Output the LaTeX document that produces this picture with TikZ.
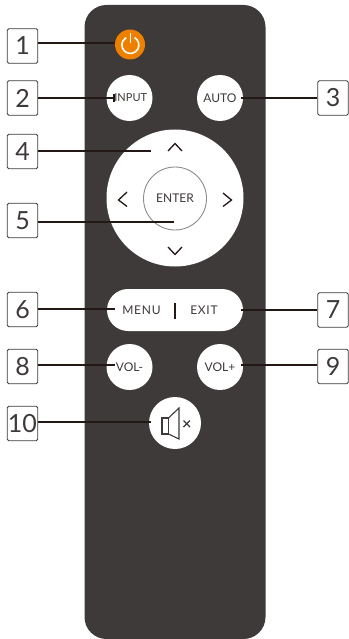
\documentclass[tikz,border=0pt]{standalone}
\usepackage{fontspec}
\setmainfont{Lato}
\tikzset{
    numbox/.style={draw=bodygray, line width=0.9pt, rounded corners=1.5pt, fill=white, text=bodygray,
        minimum width=30.5pt, minimum height=34.5pt, inner sep=0pt, font=\fontsize{25}{25}\selectfont},
    keybtn/.style={circle, fill=white, text=bodygray, inner sep=0pt, minimum size=46pt, font=\fontsize{12}{12}\selectfont},
    pilltxt/.style={text=bodygray, inner sep=0pt, font=\fontsize{12}{12}\selectfont\addfontfeature{LetterSpace=6}},
    leader/.style={draw=leadblack, line width=2.3pt},
    chevron/.style={draw=leadblack, line width=1.3pt},
}
\definecolor{bodygray}{HTML}{3E3A39}
\definecolor{leadblack}{HTML}{231815}
\definecolor{powerorange}{HTML}{EE8000}
\begin{document}
\begin{tikzpicture}[x=1pt, y=-1pt]
    \useasboundingbox (0,0) rectangle (348,639);
    \fill[bodygray, rounded corners=22pt] (84.5,5) rectangle (265.5,639);

    % keys
    \node[keybtn, fill=powerorange, minimum size=30pt] (power) at (130,44.5) {};
    \draw[white, line width=1.6pt] (134.6,37.6) arc[start angle=300, end angle=600, radius=8.5];
    \draw[white, line width=1.6pt] (130.3,33) -- (130.3,43);
    \node[keybtn, font=\fontsize{11}{11}\selectfont] (input) at (129.5,98) {\hspace{2.5pt}INPUT};
    \node[keybtn] (auto) at (220,98) {AUTO};
    \node[keybtn, minimum size=137pt] (dial) at (175,198) {};
    \node[keybtn, draw=gray!90, line width=0.9pt, minimum size=63pt] (enter) at (175,198.5) {ENTER};
    \node[keybtn, shape=rectangle, rounded corners=21pt, minimum width=136pt, minimum height=42pt] (menu) at (175,310) {};
    \node[pilltxt] (menutxt) at (141.5,310) {MENU};
    \node[pilltxt] (exittxt) at (204,310) {EXIT};
    \draw[leadblack, line width=1.2pt] (175,302.5) -- (175,318.5);
    \node[keybtn] (volm) at (129.5,367) {VOL-};
    \node[keybtn] (volp) at (220,367) {VOL+};
    \node[keybtn, minimum size=52pt] (mute) at (175,423) {};

    % dial arrows
    \draw[chevron] (168,151) -- (175,143.5) -- (182,151);
    \draw[chevron] (168,247) -- (175,254.5) -- (182,247);
    \draw[chevron] (127,192) -- (118.5,200) -- (127,206.5);
    \draw[chevron] (223,193) -- (231.5,200) -- (223,206.5);

    % speaker
    \draw[bodygray, line width=1.1pt] (162,418) rectangle (168.5,434);
    \draw[bodygray, line width=1.1pt] (168.5,418) -- (179,408) -- (179,439) -- (168.5,434);
    \draw[bodygray, line width=1.2pt] (183.5,420.5) -- (190,427) (190,420.5) -- (183.5,427);

    % numbered boxes
    \foreach \n/\x/\y in {1/22.5/46, 2/22.5/98, 3/333/98, 4/22.5/151.5, 5/22.5/220.5, 6/22.5/309.5, 7/333/310, 8/22.5/366.5, 9/333/366.5, 10/22.5/423.5}
        \node[numbox] (box\n) at (\x,\y) {\n};

    % leader ends
    \coordinate (end1) at (115,43);
    \coordinate (end2) at (114,98);
    \coordinate (end3) at (241,98);
    \coordinate (end4) at (151,151);
    \coordinate (end5) at (174,222);
    \coordinate (end6) at (115,309);
    \coordinate (end7) at (241,310);
    \coordinate (end8) at (115,365);
    \coordinate (end9) at (241,365);
    \coordinate (end10) at (151,422);

    \foreach \n in {1,2,4,5,6,8,10}
        \draw[leader] (end\n -| box\n.east) -- (end\n);
    \foreach \n in {3,7,9}
        \draw[leader] (end\n -| box\n.west) -- (end\n);
    \draw[leadblack, line width=1.2pt] (114,94) -- (114,102);
\end{tikzpicture}
\end{document}
